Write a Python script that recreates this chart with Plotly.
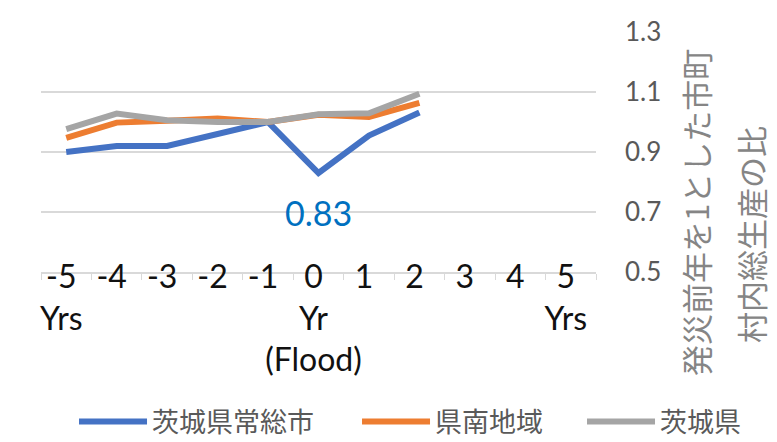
import plotly.graph_objects as go

categories = ["-5<br>Yrs", "-4", "-3", "-2", "-1", "0<br>Yr<br>(Flood)", "1", "2", "3", "4", "5<br>Yrs"]
series_names = ["茨城県常総市", "県南地域", "茨城県"]
joso = [0.90, 0.92, 0.92, 0.96, 1.00, 0.83, 0.955, 1.032]
kennan = [0.947, 0.998, 1.004, 1.012, 1.00, 1.024, 1.017, 1.064]
ibaraki = [0.976, 1.028, 1.006, 1.000, 1.00, 1.026, 1.029, 1.094]
colors = ["#4472C4", "#ED7D31", "#A5A5A5"]
y_ticks = [0.5, 0.7, 0.9, 1.1, 1.3]
y_title_lines = ["発災前年を1とした市町", "村内総生産の比"]
flood_label = "0.83"

LATIN = "Lato, 'Liberation Sans', sans-serif"
CJK = "'Noto Sans CJK JP', sans-serif"

legend_ids = ["legend", "legend2", "legend3"]
legend_x = [0.0595, 0.5694, 0.9748]

fig = go.Figure()
for name, vals, col, lid in zip(series_names, [joso, kennan, ibaraki], colors, legend_ids):
    fig.add_trace(go.Scatter(
        x=categories[:len(vals)], y=vals, name=name, mode="lines",
        line=dict(color=col, width=6), legend=lid,
    ))

fig.add_annotation(
    x=categories[5], y=joso[5], text=flood_label, showarrow=False,
    yshift=-39, font=dict(family=LATIN, size=34, color="#0070C0"),
)
for text, ax, ay in zip(y_title_lines, [1.1784, 1.2775], [0.2458, 0.154]):
    fig.add_annotation(
        x=ax, y=ay, xref="paper", yref="paper", text=text,
        xanchor="center", yanchor="middle",
        textangle=-90, showarrow=False,
        font=dict(family=CJK, size=31, color="#858585"),
    )

legend_style = dict(
    orientation="h", xanchor="left", y=-0.625, yanchor="middle",
    font=dict(family=CJK, size=27, color="#595959"),
    itemwidth=68, bgcolor="rgba(0,0,0,0)",
)
layout_legends = {lid: dict(legend_style, x=lx) for lid, lx in zip(legend_ids, legend_x)}

fig.update_layout(
    width=777, height=442,
    margin=dict(l=41, r=181, t=32, b=170, autoexpand=False),
    plot_bgcolor="white", paper_bgcolor="white",
    showlegend=True,
    **layout_legends,
)
fig.update_xaxes(
    type="category", categoryorder="array", categoryarray=categories,
    range=[-0.5, 10.5], automargin=False, tickangle=0,
    showgrid=False, showline=True, linecolor="#D9D9D9", linewidth=1.5,
    ticks="outside", tickson="boundaries", ticklen=6, tickcolor="#D9D9D9",
    tickfont=dict(family=LATIN, size=32, color="#111111"),
    ticklabelstandoff=-24, ticklabelshift=-5,
)
fig.update_yaxes(
    side="right", range=[0.5, 1.3001], tickvals=y_ticks, automargin=False,
    ticktext=[f"{v:.1f}" for v in y_ticks],
    showgrid=True, gridcolor="#D9D9D9", gridwidth=1.5,
    showline=False, zeroline=False,
    tickfont=dict(family=LATIN, size=26, color="#595959"),
    ticklabelstandoff=28,
)

fig.write_html("out.html")
